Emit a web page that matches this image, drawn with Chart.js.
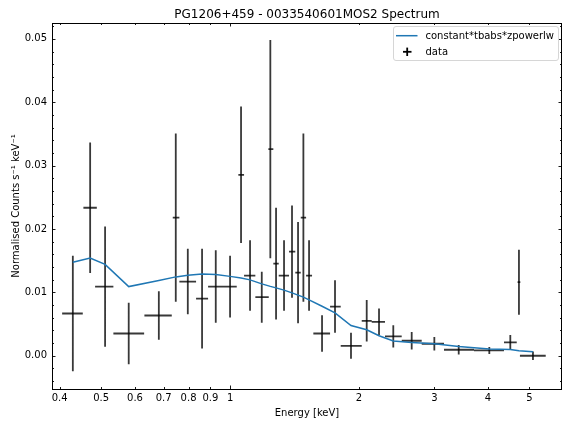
<!DOCTYPE html>
<html>
<head>
<meta charset="utf-8">
<script src="https://cdn.jsdelivr.net/npm/chart.js@4/dist/chart.umd.min.js"></script>
<style>
  html, body { margin: 0; padding: 0; background: #fff; }
  #wrap { width: 568px; height: 424px; }
</style>
</head>
<body>
<div id="wrap"><canvas id="c" width="568" height="424"></canvas></div>
<script>
// ---- data ----
const energy   = [0.4295, 0.4714, 0.5108, 0.5800, 0.6819, 0.7469, 0.7968, 0.8603, 0.9260, 1.0000, 1.0608, 1.1134, 1.1858, 1.2417, 1.2805, 1.3366, 1.3951, 1.4411, 1.4831, 1.5290, 1.6395, 1.7579, 1.9156, 2.0845, 2.2270, 2.4046, 2.6547, 2.9982, 3.4180, 4.0290, 4.5103, 4.7248, 5.0944];
const energyLo = [0.4055, 0.4546, 0.4841, 0.5341, 0.6310, 0.7349, 0.7615, 0.8330, 0.8886, 0.9631, 1.0456, 1.0781, 1.1456, 1.2286, 1.2619, 1.2990, 1.3730, 1.4200, 1.4623, 1.5049, 1.5646, 1.7118, 1.8127, 2.0294, 2.1413, 2.2998, 2.5159, 2.8015, 3.1580, 3.7104, 4.3597, 4.6900, 4.7500];
const energyHi = [0.4531, 0.4886, 0.5341, 0.6301, 0.7310, 0.7615, 0.8330, 0.8886, 0.9631, 1.0366, 1.0781, 1.1456, 1.2312, 1.2619, 1.2990, 1.3730, 1.4200, 1.4623, 1.5049, 1.5538, 1.7118, 1.8127, 2.0294, 2.1413, 2.2998, 2.5159, 2.8015, 3.1580, 3.7104, 4.3597, 4.6691, 4.7600, 5.4562];
const counts   = [0.00666, 0.02335, 0.01091, 0.00351, 0.00635, 0.02178, 0.01170, 0.00902, 0.01091, 0.01091, 0.02855, 0.01265, 0.00924, 0.03260, 0.01454, 0.01265, 0.01643, 0.01312, 0.02178, 0.01265, 0.00351, 0.00776, 0.00157, 0.00551, 0.00535, 0.00304, 0.00236, 0.00189, 0.00094, 0.00083, 0.00210, 0.01160, 0.00000];
const countsErr= [0.00910, 0.01031, 0.00950, 0.00486, 0.00383, 0.01328, 0.00517, 0.00787, 0.00572, 0.00486, 0.01076, 0.00556, 0.00402, 0.01722, 0.00882, 0.00556, 0.00729, 0.00800, 0.01328, 0.00556, 0.00289, 0.00415, 0.00205, 0.00328, 0.00210, 0.00176, 0.00137, 0.00107, 0.00074, 0.00055, 0.00118, 0.00512, 0.00066];
const model    = [0.01476, 0.01543, 0.01441, 0.01091, 0.01187, 0.01244, 0.01271, 0.01288, 0.01283, 0.01252, 0.01225, 0.01197, 0.01134, 0.01094, 0.01071, 0.01035, 0.00992, 0.00956, 0.00925, 0.00882, 0.00780, 0.00677, 0.00477, 0.00409, 0.00315, 0.00232, 0.00210, 0.00189, 0.00147, 0.00106, 0.00099, 0.00079, 0.00063];
const xTickValues = [0.4, 0.5, 0.6, 0.7, 0.8, 0.9, 1, 2, 3, 4, 5];
const xMajorTicks = [1];
const yTickValues = [0, 0.01, 0.02, 0.03, 0.04, 0.05];
const titleText = 'PG1206+459 - 0033540601MOS2 Spectrum';
const xLabel = 'Energy [keV]';
const yLabel = 'Normalised Counts s\u207B\u00B9 keV\u207B\u00B9';
const modelName = 'constant*tbabs*zpowerlw';
const dataName = 'data';

// ---- build datasets from the arrays ----
const modelPts = energy.map((e, i) => ({x: e, y: model[i]}));
const vBars = [];
const hBars = [];
energy.forEach((e, i) => {
  vBars.push({x: e, y: counts[i] - countsErr[i]}, {x: e, y: counts[i] + countsErr[i]}, {x: e, y: null});
  hBars.push({x: energyLo[i], y: counts[i]}, {x: energyHi[i], y: counts[i]}, {x: energyHi[i], y: null});
});

const FONT = 'DejaVu Sans';
const barColor = 'rgba(0,0,0,0.78)';

const decor = {
  id: 'decor',
  afterDatasetsDraw(chart) {
    const {ctx, chartArea: a, scales: {x, y}} = chart;
    ctx.save();
    ctx.strokeStyle = '#000';
    ctx.lineWidth = 0.9;
    const seg = (x1, y1, x2, y2) => { ctx.beginPath(); ctx.moveTo(x1, y1); ctx.lineTo(x2, y2); ctx.stroke(); };
    // x ticks (inward, bottom and top)
    xTickValues.forEach(v => {
      const len = xMajorTicks.includes(v) ? 3.5 : 2;
      const px = Math.round(x.getPixelForValue(v)) + 0.5;
      seg(px, a.bottom, px, a.bottom - len);
      seg(px, a.top, px, a.top + len);
    });
    // y ticks: major + minor every 0.002
    for (let k = -2; k <= 26; k++) {
      const v = k * 0.002;
      if (v < y.min || v > y.max) continue;
      const len = (k % 5 === 0) ? 3.5 : 2;
      const py = Math.round(y.getPixelForValue(v)) + 0.5;
      seg(a.left, py, a.left + len, py);
      seg(a.right, py, a.right - len, py);
    }
    // frame
    ctx.lineWidth = 1;
    ctx.strokeRect(Math.round(a.left) + 0.5, Math.round(a.top) + 0.5, Math.round(a.right - a.left) - 1, Math.round(a.bottom - a.top));
    ctx.restore();
  },
  afterDraw(chart) {
    const {ctx, chartArea: a} = chart;
    ctx.save();
    // title
    ctx.fillStyle = '#000';
    ctx.font = '12px "' + FONT + '"';
    ctx.textAlign = 'center';
    ctx.textBaseline = 'alphabetic';
    ctx.fillText(titleText, (a.left + a.right) / 2, 17.5);
    // legend
    const bx = 393.5, by = 26.5, bw = 165, bh = 34, r = 2.5;
    ctx.beginPath();
    ctx.moveTo(bx + r, by);
    ctx.lineTo(bx + bw - r, by); ctx.arcTo(bx + bw, by, bx + bw, by + r, r);
    ctx.lineTo(bx + bw, by + bh - r); ctx.arcTo(bx + bw, by + bh, bx + bw - r, by + bh, r);
    ctx.lineTo(bx + r, by + bh); ctx.arcTo(bx, by + bh, bx, by + bh - r, r);
    ctx.lineTo(bx, by + r); ctx.arcTo(bx, by, bx + r, by, r);
    ctx.closePath();
    ctx.fillStyle = 'rgba(255,255,255,0.85)';
    ctx.fill();
    ctx.strokeStyle = '#d6d6d6';
    ctx.lineWidth = 1;
    ctx.stroke();
    // model line sample
    ctx.strokeStyle = '#1f77b4';
    ctx.lineWidth = 1.5;
    ctx.beginPath(); ctx.moveTo(396, 35.7); ctx.lineTo(417.5, 35.7); ctx.stroke();
    // data marker sample
    ctx.strokeStyle = '#000';
    ctx.lineWidth = 1.8;
    ctx.beginPath(); ctx.moveTo(403, 51.8); ctx.lineTo(411.5, 51.8); ctx.stroke();
    ctx.beginPath(); ctx.moveTo(407.2, 47.6); ctx.lineTo(407.2, 56); ctx.stroke();
    ctx.fillStyle = '#000';
    ctx.font = '10px "' + FONT + '"';
    ctx.textAlign = 'left';
    ctx.textBaseline = 'middle';
    ctx.fillText(modelName, 425.5, 36);
    ctx.fillText(dataName, 425.5, 52);
    ctx.restore();
  }
};

new Chart(document.getElementById('c'), {
  type: 'line',
  data: {
    datasets: [
      { label: modelName, data: modelPts, borderColor: '#1f77b4', borderWidth: 1.5, pointRadius: 0, tension: 0, fill: false },
      { label: dataName + ' (y err)', data: vBars, borderColor: barColor, borderWidth: 1.8, pointRadius: 0, spanGaps: false, fill: false, borderCapStyle: 'butt' },
      { label: dataName + ' (x err)', data: hBars, borderColor: barColor, borderWidth: 1.8, pointRadius: 0, spanGaps: false, fill: false, borderCapStyle: 'butt' }
    ]
  },
  options: {
    responsive: false,
    animation: false,
    devicePixelRatio: 1,
    layout: { padding: { top: 23, right: 6, left: 0, bottom: 0 } },
    plugins: { legend: { display: false }, tooltip: { enabled: false }, title: { display: false } },
    scales: {
      x: {
        type: 'logarithmic',
        position: 'bottom',
        min: 0.384,
        max: 5.955,
        grid: { display: false, drawTicks: false },
        border: { display: false },
        afterBuildTicks: s => { s.ticks = xTickValues.map(v => ({ value: v })); },
        afterFit: s => { s.height = 35; },
        ticks: {
          autoSkip: false, maxRotation: 0, minRotation: 0, padding: 3,
          color: '#000', font: { family: FONT, size: 10 },
          callback: v => String(v)
        },
        title: { display: true, text: xLabel, color: '#000', font: { family: FONT, size: 10 }, padding: { top: 0, bottom: 5 } }
      },
      y: {
        type: 'linear',
        position: 'left',
        min: -0.00525,
        max: 0.0525,
        grid: { display: false, drawTicks: false },
        border: { display: false },
        afterBuildTicks: s => { s.ticks = yTickValues.map(v => ({ value: v })); },
        afterFit: s => { s.width = 52; },
        ticks: {
          padding: 5, color: '#000', font: { family: FONT, size: 10 },
          callback: v => Number(v).toFixed(2)
        },
        title: { display: true, text: yLabel, color: '#000', font: { family: FONT, size: 10 }, padding: { top: 10, bottom: 0 } }
      }
    }
  },
  plugins: [decor]
});
</script>
</body>
</html>
